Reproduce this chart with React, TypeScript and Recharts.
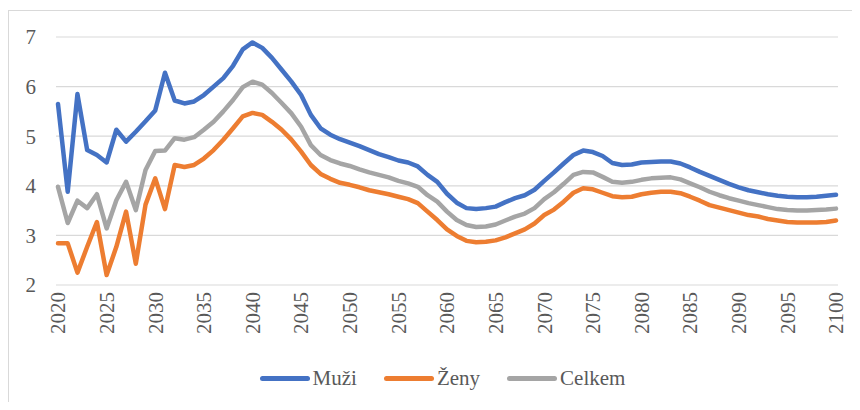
import React from 'react';
import { LineChart, Line, XAxis, YAxis, CartesianGrid, Legend } from 'recharts';

const years = [
  2020, 2021, 2022, 2023, 2024, 2025, 2026, 2027, 2028, 2029,
  2030, 2031, 2032, 2033, 2034, 2035, 2036, 2037, 2038, 2039,
  2040, 2041, 2042, 2043, 2044, 2045, 2046, 2047, 2048, 2049,
  2050, 2051, 2052, 2053, 2054, 2055, 2056, 2057, 2058, 2059,
  2060, 2061, 2062, 2063, 2064, 2065, 2066, 2067, 2068, 2069,
  2070, 2071, 2072, 2073, 2074, 2075, 2076, 2077, 2078, 2079,
  2080, 2081, 2082, 2083, 2084, 2085, 2086, 2087, 2088, 2089,
  2090, 2091, 2092, 2093, 2094, 2095, 2096, 2097, 2098, 2099,
  2100,
];

const muzi = [
  5.65, 3.88, 5.85, 4.72, 4.62, 4.47, 5.13, 4.89, 5.09, 5.30,
  5.52, 6.28, 5.72, 5.66, 5.70, 5.83, 6.00, 6.17, 6.42, 6.75,
  6.89, 6.78, 6.58, 6.34, 6.10, 5.83, 5.43, 5.16, 5.03, 4.94,
  4.87, 4.80, 4.72, 4.64, 4.58, 4.51, 4.47, 4.39, 4.22, 4.08,
  3.84, 3.66, 3.55, 3.53, 3.55, 3.58, 3.67, 3.75, 3.81, 3.92,
  4.10, 4.27, 4.45, 4.62, 4.71, 4.68, 4.60, 4.46, 4.42, 4.43,
  4.47, 4.48, 4.49, 4.49, 4.45, 4.37, 4.28, 4.20, 4.12, 4.04,
  3.97, 3.91, 3.87, 3.83, 3.80, 3.78, 3.77, 3.77, 3.78, 3.80,
  3.82,
];

const zeny = [
  2.84, 2.84, 2.25, 2.77, 3.27, 2.20, 2.77, 3.48, 2.43, 3.62,
  4.15, 3.53, 4.42, 4.38, 4.42, 4.55, 4.72, 4.93, 5.16, 5.40,
  5.47, 5.43, 5.29, 5.13, 4.93, 4.69, 4.42, 4.24, 4.14, 4.06,
  4.02, 3.97, 3.91, 3.87, 3.83, 3.78, 3.73, 3.65, 3.48, 3.31,
  3.12, 2.99, 2.89, 2.86, 2.87, 2.90, 2.96, 3.04, 3.12, 3.24,
  3.41, 3.52, 3.68, 3.86, 3.95, 3.93, 3.86, 3.79, 3.77, 3.78,
  3.83, 3.86, 3.88, 3.88, 3.85, 3.78, 3.70, 3.61, 3.56, 3.51,
  3.46, 3.41, 3.38, 3.33, 3.30, 3.27, 3.26, 3.26, 3.26, 3.27,
  3.30,
];

const celkem = [
  3.98, 3.25, 3.70, 3.55, 3.83, 3.14, 3.71, 4.08, 3.51, 4.32,
  4.70, 4.71, 4.96, 4.93, 4.98, 5.13, 5.29, 5.50, 5.73, 5.99,
  6.10, 6.04, 5.87, 5.67, 5.46, 5.19, 4.82, 4.62, 4.52, 4.45,
  4.40, 4.33, 4.27, 4.22, 4.17, 4.10, 4.05, 3.98, 3.81, 3.68,
  3.48, 3.31, 3.21, 3.17, 3.18, 3.22, 3.30, 3.38, 3.44, 3.55,
  3.73, 3.87, 4.04, 4.22, 4.28, 4.27, 4.18, 4.08, 4.06, 4.08,
  4.12, 4.15, 4.16, 4.17, 4.13, 4.05, 3.97, 3.88, 3.81, 3.75,
  3.70, 3.65, 3.61, 3.57, 3.53, 3.51, 3.50, 3.50, 3.51, 3.52,
  3.54,
];

const xTicks = [2020, 2025, 2030, 2035, 2040, 2045, 2050, 2055, 2060, 2065, 2070, 2075, 2080, 2085, 2090, 2095, 2100];
const yTicks = [2, 3, 4, 5, 6, 7];

const seriesKeys = ['muzi', 'zeny', 'celkem'];
const seriesNames = ['Muži', 'Ženy', 'Celkem'];
const seriesColors = ['#4472C4', '#ED7D31', '#A5A5A5'];

const data = years.map((year, i) => ({
  year,
  muzi: muzi[i],
  zeny: zeny[i],
  celkem: celkem[i],
}));

const FONT = "'Liberation Serif', 'Times New Roman', Times, 'DejaVu Serif', serif";
const TEXT = '#595959';
const FS = 21;

function XTick(props: any) {
  const { x, y, payload } = props;
  return (
    <text
      transform={`translate(${x},${y}) rotate(-90)`}
      textAnchor="end"
      dy="0.35em"
      fill={TEXT}
      style={{ fontFamily: FONT, fontSize: FS }}
    >
      {payload.value}
    </text>
  );
}

function YTick(props: any) {
  const { x, y, payload } = props;
  return (
    <text
      x={x}
      y={y}
      textAnchor="end"
      dy="0.35em"
      fill={TEXT}
      style={{ fontFamily: FONT, fontSize: FS }}
    >
      {payload.value}
    </text>
  );
}

function renderLegend() {
  return (
    <div
      style={{
        display: 'flex',
        justifyContent: 'center',
        alignItems: 'center',
        height: 30,
        paddingLeft: 16,
        boxSizing: 'border-box',
        fontFamily: FONT,
        fontSize: FS,
        color: TEXT,
      }}
    >
      {seriesNames.map((name, i) => (
        <div
          key={name}
          style={{
            display: 'flex',
            alignItems: 'center',
            marginRight: i < seriesNames.length - 1 ? 27 : 0,
          }}
        >
          <div
            style={{
              width: 50,
              height: 5,
              borderRadius: 2.5,
              background: seriesColors[i],
              marginRight: 3,
            }}
          />
          <span>{name}</span>
        </div>
      ))}
    </div>
  );
}

export default function App() {
  return (
    <div
      style={{
        marginTop: 2,
        width: 851,
        height: 391,
        borderTop: '1px solid #d9d9d9',
        borderLeft: '1px solid #d9d9d9',
        position: 'relative',
        fontFamily: FONT,
      }}
    >
      <LineChart
        width={851}
        height={391}
        data={data}
        margin={{ top: 26, right: 22, bottom: 57, left: 0 }}
        style={{ fontFamily: FONT }}
      >
        <CartesianGrid vertical={false} stroke="#d9d9d9" strokeWidth={1.2} />
        <XAxis
          type="number"
          dataKey="year"
          domain={[2020, 2100]}
          ticks={xTicks}
          interval={0}
          axisLine={false}
          tickLine={false}
          tickSize={0}
          tickMargin={7}
          height={60}
          padding={{ left: 2, right: 2 }}
          tick={<XTick />}
        />
        <YAxis
          type="number"
          domain={[2, 7]}
          ticks={yTicks}
          interval={0}
          axisLine={false}
          tickLine={false}
          tickSize={0}
          tickMargin={20}
          width={47}
          tick={<YTick />}
        />
        <Legend
          verticalAlign="middle"
          layout="horizontal"
          align="center"
          wrapperStyle={{ top: 352, left: 0, width: 851 }}
          content={renderLegend}
        />
        {seriesKeys.map((k, i) => (
          <Line
            key={k}
            type="linear"
            dataKey={k}
            name={seriesNames[i]}
            stroke={seriesColors[i]}
            strokeWidth={4.5}
            strokeLinejoin="round"
            strokeLinecap="round"
            dot={false}
            activeDot={false}
            isAnimationActive={false}
          />
        ))}
      </LineChart>
    </div>
  );
}
